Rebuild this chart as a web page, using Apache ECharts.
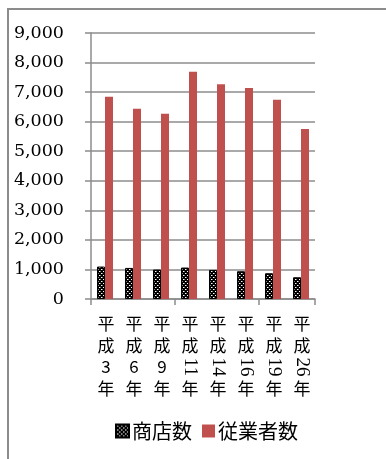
<!DOCTYPE html>
<html>
<head>
<meta charset="utf-8">
<script src="https://cdn.jsdelivr.net/npm/echarts@6/dist/echarts.min.js"></script>
<style>
  html, body { margin: 0; padding: 0; background: #fff; }
  #chart { width: 386px; height: 459px; }
</style>
</head>
<body>
<div id="chart"></div>
<script>
// Era-year categories (Heisei), split into the parts stacked vertically under each column
const eraPrefix = ['平', '成'];
const yearNumbers = ['3', '6', '9', '11', '14', '16', '19', '26'];
const yearSuffix = '年';
const categories = yearNumbers.map(n => '平成' + n + '年');

// Number of shops and number of employees
const shopCounts = [1098, 1051, 996, 1064, 983, 939, 872, 736];
const employeeCounts = [6846, 6440, 6272, 7692, 7265, 7140, 6745, 5755];

const seriesNames = ['商店数', '従業者数'];
const yTicks = { min: 0, max: 9000, interval: 1000 };

// Dotted black fill for the shop-count bars
function makeDotPattern() {
  const c = document.createElement('canvas');
  c.width = 4; c.height = 4;
  const g = c.getContext('2d');
  g.fillStyle = '#000';
  g.fillRect(0, 0, 4, 4);
  g.fillStyle = '#fff';
  g.fillRect(1, 1, 1, 1);
  g.fillRect(3, 3, 1, 1);
  g.fillStyle = 'rgba(255,255,255,0.5)';
  g.fillRect(2, 1, 1, 1);
  g.fillRect(0, 3, 1, 1);
  return c;
}

const gray = '#8c8c8c';
const chart = echarts.init(document.getElementById('chart'), null, { renderer: 'canvas' });

const option = {
  animation: false,
  backgroundColor: '#fff',
  grid: { left: 91, right: 71, top: 33, bottom: 160, containLabel: false },
  legend: {
    left: 110,
    top: 416,
    itemWidth: 13,
    itemHeight: 13,
    itemGap: 10,
    icon: 'rect',
    textStyle: { fontFamily: 'Noto Sans CJK JP', fontSize: 20, color: '#000', padding: [0, 0, 0, -2] },
    data: seriesNames
  },
  xAxis: {
    type: 'category',
    data: categories,
    boundaryGap: true,
    axisLine: { lineStyle: { color: gray, width: 1.5 } },
    axisTick: { show: true, length: 6, alignWithLabel: false, lineStyle: { color: gray, width: 1.5 } },
    axisLabel: { show: false }
  },
  yAxis: {
    type: 'value',
    min: yTicks.min,
    max: yTicks.max,
    interval: yTicks.interval,
    axisLine: { show: true, lineStyle: { color: gray, width: 1.5 } },
    axisTick: { show: true, length: 6, lineStyle: { color: gray, width: 1.5 } },
    splitLine: { show: true, lineStyle: { color: gray, width: 1.5 } },
    axisLabel: {
      margin: 27,
      fontFamily: 'DejaVu Serif',
      fontSize: 17.5,
      color: '#000',
      formatter: v => v.toLocaleString('en-US')
    }
  },
  series: [
    {
      name: seriesNames[0],
      type: 'bar',
      data: shopCounts,
      barWidth: 8,
      barGap: '0%',
      itemStyle: {
        color: { image: makeDotPattern(), repeat: 'repeat' },
        borderColor: '#000',
        borderWidth: 1
      }
    },
    {
      name: seriesNames[1],
      type: 'bar',
      data: employeeCounts,
      barWidth: 8,
      itemStyle: { color: '#c0504d' }
    }
  ]
};
chart.setOption(option);

// Vertical category labels: era characters stacked, two-digit years turned sideways
const labelFont = { fontFamily: 'Noto Sans CJK JP', fontSize: 17, fill: '#000' };
const firstLineY = 324;
const lineStep = 21.5;
const labelGraphics = [];
categories.forEach((cat, i) => {
  const x = chart.convertToPixel({ xAxisIndex: 0 }, i);
  const parts = [eraPrefix[0], eraPrefix[1], yearNumbers[i], yearSuffix];
  parts.forEach((t, k) => {
    const sideways = t.length > 1 && /^\d+$/.test(t);
    labelGraphics.push({
      type: 'text',
      x: x + 1,
      y: firstLineY + k * lineStep,
      rotation: sideways ? -Math.PI / 2 : 0,
      style: Object.assign({ text: t, align: 'center', verticalAlign: 'middle' },
        labelFont, sideways ? { fontFamily: 'Liberation Serif', fontSize: 19 } : {}),
      silent: true
    });
  });
});

// Outer frame along the top and left edges
labelGraphics.push({
  type: 'polyline',
  shape: { points: [[8, 459], [8, 9], [386, 9]] },
  style: { stroke: gray, lineWidth: 2, fill: null },
  silent: true
});

chart.setOption({ graphic: labelGraphics });
</script>
</body>
</html>
